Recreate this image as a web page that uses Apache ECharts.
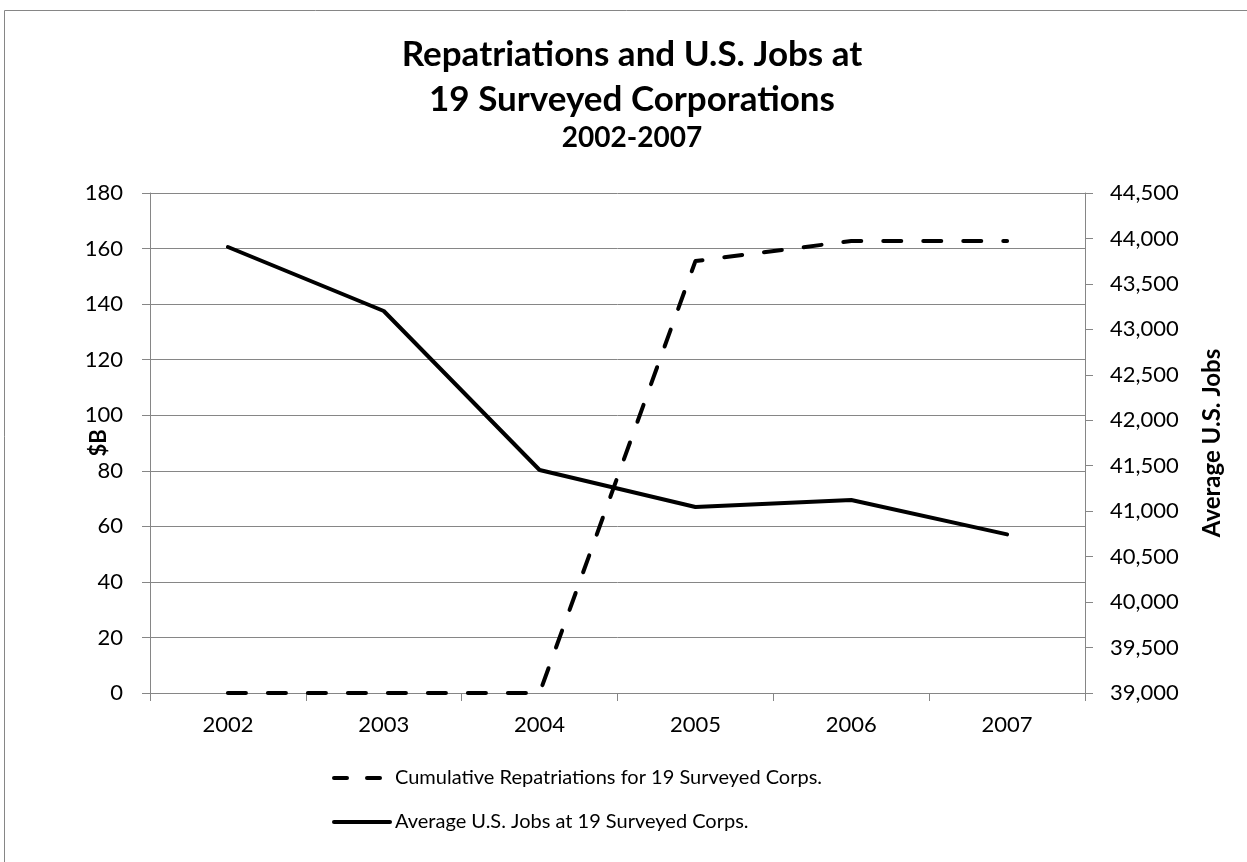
<!DOCTYPE html>
<html><head><meta charset="utf-8">
<script src="https://cdn.jsdelivr.net/npm/echarts@6/dist/echarts.min.js"></script>
<style>html,body{margin:0;padding:0;background:#fff}#c{width:1247px;height:862px}</style>
</head><body><div id="c"></div>
<script>
const years = ['2002', '2003', '2004', '2005', '2006', '2007'];
const repatriations = [0, 0, 0, 155.5, 162.7, 162.7];
const avgJobs = [43906, 43202, 41453, 41046, 41123, 40745];
const leftAxis = { min: 0, max: 180, interval: 20 };
const rightAxis = { min: 39000, max: 44500, interval: 500 };
const seriesNames = ['Cumulative Repatriations for 19 Surveyed Corps.', 'Average U.S. Jobs at 19 Surveyed Corps.'];

const FONT = "Lato, 'Open Sans', sans-serif";
const GRAY = '#868686';
const chart = echarts.init(document.getElementById('c'), null, { renderer: 'canvas' });
chart.setOption({
  backgroundColor: '#fff',
  animation: false,
  graphic: [{
    type: 'rect', shape: { x: 4.5, y: 10.5, width: 1400, height: 1000 },
    style: { fill: 'none', stroke: GRAY, lineWidth: 1 }, silent: true, z: -1
  }],
  title: {
    text: 'Repatriations and U.S. Jobs at\n19 Surveyed Corporations',
    subtext: '2002-2007',
    left: 632, textAlign: 'center', top: 32, itemGap: 0, padding: 0,
    textStyle: { fontFamily: FONT, fontSize: 35, fontWeight: 'bold', color: '#000', lineHeight: 45 },
    subtextStyle: { fontFamily: FONT, fontSize: 28, fontWeight: 'bold', color: '#000', lineHeight: 32 }
  },
  grid: { left: 150, right: 162, top: 193, bottom: 169, containLabel: false },
  legend: {
    orient: 'vertical', left: 327, top: 763,
    itemWidth: 56, itemHeight: 20, itemGap: 24,
    itemStyle: { opacity: 0 },
    textStyle: { fontFamily: FONT, fontSize: 20, color: '#000' },
    data: [
      { name: seriesNames[0], lineStyle: { type: [13, 20, 13, 100], width: 4, cap: 'round' } },
      { name: seriesNames[1], lineStyle: { width: 4, cap: 'round' } }
    ]
  },
  xAxis: {
    type: 'category', data: years, boundaryGap: true,
    axisLine: { lineStyle: { color: GRAY, width: 1 } },
    axisTick: { show: true, length: 8, interval: 0, lineStyle: { color: GRAY } },
    axisLabel: { fontFamily: FONT, fontSize: 22, color: '#000', margin: 21 }
  },
  yAxis: [{
    type: 'value', min: leftAxis.min, max: leftAxis.max, interval: leftAxis.interval,
    name: '$B', nameLocation: 'middle', nameGap: 40, nameMoveOverlap: false,
    nameTextStyle: { fontFamily: FONT, fontSize: 22, fontWeight: 'bold', color: '#000' },
    axisLine: { show: true, lineStyle: { color: GRAY } },
    axisTick: { show: true, length: 8, lineStyle: { color: GRAY } },
    splitLine: { show: true, lineStyle: { color: GRAY, width: 1 } },
    axisLabel: { fontFamily: FONT, fontSize: 22, color: '#000', margin: 27 }
  }, {
    type: 'value', position: 'right', min: rightAxis.min, max: rightAxis.max, interval: rightAxis.interval,
    name: 'Average U.S. Jobs', nameLocation: 'middle', nameGap: 115, nameRotate: 90, nameMoveOverlap: false,
    nameTextStyle: { fontFamily: FONT, fontSize: 24, fontWeight: 'bold', color: '#000' },
    axisLine: { show: true, lineStyle: { color: GRAY } },
    axisTick: { show: true, length: 8, lineStyle: { color: GRAY } },
    splitLine: { show: false },
    axisLabel: { fontFamily: FONT, fontSize: 22, color: '#000', margin: 25,
      formatter: v => v.toLocaleString('en-US') }
  }],
  series: [{
    name: seriesNames[0], type: 'line', yAxisIndex: 0, data: repatriations,
    symbol: 'none', color: '#000',
    lineStyle: { color: '#000', width: 4, type: [18, 22], cap: 'round', join: 'round' }
  }, {
    name: seriesNames[1], type: 'line', yAxisIndex: 1, data: avgJobs,
    symbol: 'none', color: '#000',
    lineStyle: { color: '#000', width: 4, type: 'solid', cap: 'round', join: 'round' }
  }]
});
</script></body></html>
